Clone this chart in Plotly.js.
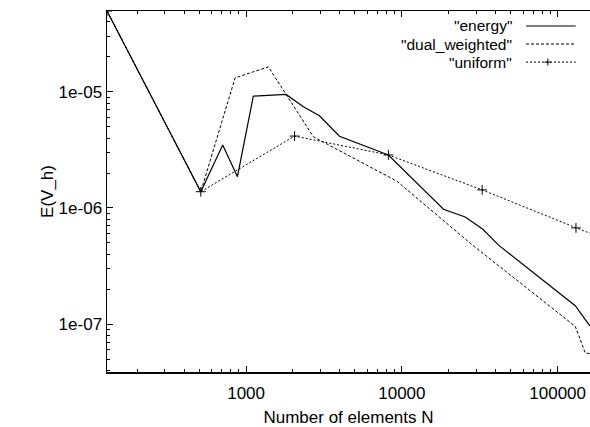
<!DOCTYPE html>
<html>
<head>
<meta charset="utf-8">
<script src="https://cdn.plot.ly/plotly-3.0.1.min.js"></script>
<style>html,body{margin:0;padding:0;background:#fff;}#chart{width:590px;height:427px;}</style>
</head>
<body>
<div id="chart"></div>
<script>
// Data
const energyN = [128, 512, 708, 880, 1113, 1807, 2333, 2957, 3975, 5960, 8192, 18500, 25500, 33100, 41750, 129700, 161000];
const energyE = [4.97e-5, 1.38e-6, 3.48e-6, 1.86e-6, 9.19e-6, 9.5e-6, 7.43e-6, 6.22e-6, 4.15e-6, 3.36e-6, 2.86e-6, 9.75e-7, 8.35e-7, 6.56e-7, 4.78e-7, 1.44e-7, 9.66e-8];
const dualN = [128, 512, 850, 1390, 2705, 9290, 28280, 129700, 150300, 161000];
const dualE = [4.97e-5, 1.38e-6, 1.32e-5, 1.64e-5, 4.1e-6, 1.7e-6, 4.81e-7, 9.55e-8, 5.64e-8, 5.55e-8];
const uniformN = [128, 512, 2048, 8192, 32768, 131072, 524288];
const uniformE = [4.97e-5, 1.38e-6, 4.16e-6, 2.86e-6, 1.43e-6, 6.73e-7, 3.2e-7];
const seriesNames = ['"energy"', '"dual_weighted"', '"uniform"'];
const xTickVals = [1000, 10000, 100000];
const xTickText = ['1000', '10000', '100000'];
const yTickVals = [1e-7, 1e-6, 1e-5];
const yTickText = ['1e-07', '1e-06', '1e-05'];

function minorVals(lo, hi) {
  const out = [];
  for (let d = lo; d <= hi; d++) {
    for (let m = 2; m <= 9; m++) out.push(m * Math.pow(10, d));
  }
  return out;
}

const FONT = 'Liberation Sans, Arial, Helvetica, sans-serif';
const FS = 17;
const LFS = 15.5;

const traces = [
  {x: energyN, y: energyE, mode: 'lines', name: seriesNames[0],
   line: {color: '#000', width: 1.2}},
  {x: dualN, y: dualE, mode: 'lines', name: seriesNames[1],
   line: {color: '#000', width: 1, dash: '3px,2px'}},
  {x: uniformN, y: uniformE, mode: 'lines+markers', name: seriesNames[2],
   line: {color: '#000', width: 1, dash: '2px,2px'},
   marker: {symbol: 'cross-thin', size: 7, color: '#000', line: {color: '#000', width: 1}}}
];

// legend (gnuplot style: text right-aligned, sample to the right)
const legY = [0.9585, 0.9085, 0.8585];
const annotations = seriesNames.map((n, i) => ({
  xref: 'paper', yref: 'paper', x: 0.8406, y: legY[i], xanchor: 'right', yanchor: 'middle',
  text: n, showarrow: false, borderpad: 0, font: {family: FONT, size: LFS, color: '#000'}
}));
const dashes = ['solid', '3px,2px', '2px,2px'];
const widths = [1.2, 1, 1];
const shapes = legY.map((y, i) => ({
  type: 'line', xref: 'paper', yref: 'paper', x0: 0.8675, x1: 0.9704, y0: y, y1: y,
  line: {color: '#000', width: widths[i], dash: dashes[i]}
}));
// "+" marker in uniform legend sample
shapes.push({type: 'line', xref: 'paper', yref: 'paper', x0: 0.9127, x1: 0.9127, y0: legY[2] - 0.0097, y1: legY[2] + 0.0097, line: {color: '#000', width: 1}});
shapes.push({type: 'line', xref: 'paper', yref: 'paper', x0: 0.9055, x1: 0.9199, y0: legY[2], y1: legY[2], line: {color: '#000', width: 1}});

const layout = {
  width: 590, height: 427,
  margin: {l: 107, r: 0, t: 11, b: 55},
  paper_bgcolor: '#fff', plot_bgcolor: '#fff',
  showlegend: false,
  font: {family: FONT, size: FS, color: '#000'},
  xaxis: {
    type: 'log', range: [Math.log10(128), Math.log10(161300)],
    tickvals: xTickVals, ticktext: xTickText,
    ticks: 'inside', ticklen: 6, tickwidth: 1, tickcolor: '#000',
    minor: {tickvals: minorVals(2, 5), ticks: 'inside', ticklen: 3, tickwidth: 1, tickcolor: '#000', showgrid: false},
    showline: true, linecolor: '#000', linewidth: 1.5, mirror: 'allticks',
    showgrid: false, zeroline: false,
    ticklabelstandoff: 5,
    tickfont: {family: FONT, size: FS, color: '#000'},
    title: {text: 'Number of elements N', font: {family: FONT, size: FS, color: '#000'}, standoff: 13}
  },
  yaxis: {
    type: 'log', range: [-7.413, Math.log10(4.97e-5)],
    tickvals: yTickVals, ticktext: yTickText,
    ticks: 'inside', ticklen: 6, tickwidth: 1, tickcolor: '#000',
    minor: {tickvals: minorVals(-8, -5), ticks: 'inside', ticklen: 3, tickwidth: 1, tickcolor: '#000', showgrid: false},
    showline: true, linecolor: '#000', linewidth: 1.5, mirror: false,
    showgrid: false, zeroline: false,
    tickfont: {family: FONT, size: FS, color: '#000'},
    title: {text: 'E(V_h)', font: {family: FONT, size: FS, color: '#000'}, standoff: 0}
  },
  annotations: annotations,
  shapes: shapes
};

Plotly.newPlot('chart', traces, layout, {displayModeBar: false, staticPlot: true});
</script>
</body>
</html>
